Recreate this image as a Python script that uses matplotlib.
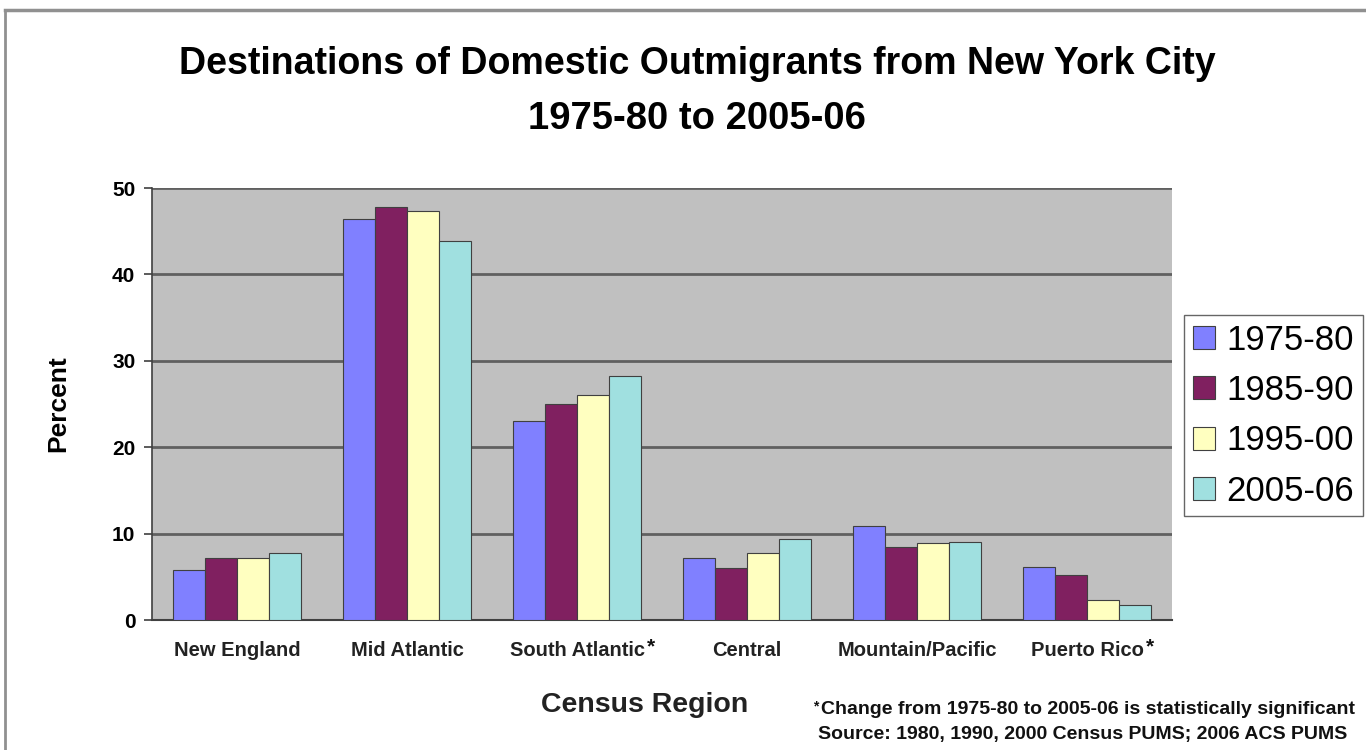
import matplotlib
matplotlib.use("Agg")
import matplotlib.pyplot as plt
import numpy as np
from matplotlib.lines import Line2D

plt.rcParams['font.family'] = ['Liberation Sans', 'DejaVu Sans']

regions = ["New England", "Mid Atlantic", "South Atlantic", "Central",
           "Mountain/Pacific", "Puerto Rico"]
significant = [False, False, True, False, False, True]
periods = ["1975-80", "1985-90", "1995-00", "2005-06"]
pct_1975 = [5.8, 46.4, 23.0, 7.2, 10.9, 6.1]
pct_1985 = [7.2, 47.8, 25.0, 6.0, 8.4, 5.2]
pct_1995 = [7.2, 47.3, 26.0, 7.8, 8.9, 2.3]
pct_2005 = [7.7, 43.9, 28.2, 9.4, 9.0, 1.7]
series = [pct_1975, pct_1985, pct_1995, pct_2005]
colors = ["#8080FF", "#802060", "#FFFFC0", "#A0E0E0"]

W, H = 1366, 750
fig = plt.figure(figsize=(W / 100, H / 100), dpi=100)
ax = fig.add_axes([152 / W, 1 - 620 / H, (1172 - 152) / W, (620 - 188) / H])
ax.set_facecolor("#C0C0C0")

x = np.arange(len(regions))
bw = 0.188
for i, (vals, c, lab) in enumerate(zip(series, colors, periods)):
    ax.bar(x + (i - 1.5) * bw, vals, width=bw, color=c, edgecolor="#404040",
           linewidth=0.8, label=lab, zorder=3)

ax.set_xlim(-0.5, len(regions) - 0.5)
ax.set_ylim(0, 50)
ax.set_yticks(range(0, 51, 10))
ax.yaxis.grid(True, color="#606060", linewidth=2, zorder=1)
ax.set_axisbelow(True)
for s in ["top", "right"]:
    ax.spines[s].set_visible(False)
ax.spines["left"].set_color("#404040")
ax.spines["left"].set_linewidth(1.2)
ax.spines["bottom"].set_color("#404040")
ax.spines["bottom"].set_linewidth(1.5)
ax.tick_params(axis="y", direction="out", length=6, width=1.2, color="#404040",
               labelsize=15, pad=6)
ax.tick_params(axis="x", length=0, labelsize=14.5, pad=15)
ax.set_xticks(x)
ax.set_xticklabels(regions, fontweight="bold", color="#222222")
for t in ax.get_yticklabels():
    t.set_fontweight("bold")

ax.set_ylabel("Percent", fontsize=19, fontweight="bold")
ax.yaxis.set_label_coords((70 - 152) / (1172 - 152), 0.5)

fig.text(697 / W, 1 - 64 / H, "Destinations of Domestic Outmigrants from New York City",
         ha="center", va="center", fontsize=27, fontweight="bold")
fig.text(697 / W, 1 - 119 / H, "1975-80 to 2005-06",
         ha="center", va="center", fontsize=27.5, fontweight="bold")
fig.text(645 / W, 1 - 705 / H, "Census Region", ha="center", va="center",
         fontsize=20.5, fontweight="bold", color="#222222")

fig.text(1088 / W, 1 - 709 / H, "Change from 1975-80 to 2005-06 is statistically significant",
         ha="center", va="center", fontsize=14, fontweight="bold", color="#111111")
fig.text(1083 / W, 1 - 735 / H, "Source: 1980, 1990, 2000 Census PUMS; 2006 ACS PUMS",
         ha="center", va="center", fontsize=14, fontweight="bold", color="#111111")

leg = fig.legend(loc="upper left", bbox_to_anchor=(1184 / W, 1 - 315 / H),
                 fontsize=25, frameon=True, fancybox=False, edgecolor="#404040",
                 handlelength=0.63, handleheight=0.63, handletextpad=0.35,
                 labelspacing=0.5, borderpad=0.25, borderaxespad=0)
leg.get_frame().set_linewidth(1.0)

# outer chart frame
fig.add_artist(Line2D([5 / W, 1], [1 - 10 / H, 1 - 10 / H], color="#909090",
                      linewidth=2.5, transform=fig.transFigure))
fig.add_artist(Line2D([5 / W, 5 / W], [1 - 10 / H, 0], color="#909090",
                      linewidth=2, transform=fig.transFigure))

# raised asterisks after significant regions and before the footnote
fig.canvas.draw()
renderer = fig.canvas.get_renderer()
for lbl, sig in zip(ax.get_xticklabels(), significant):
    if sig:
        bb = lbl.get_window_extent(renderer)
        fig.text((bb.x1 + 2) / W, (bb.y1 + 3) / H, "*", ha="left", va="top",
                 fontsize=15, fontweight="bold", color="#111111")
for t in fig.texts:
    if t.get_text().startswith("Change from"):
        bb = t.get_window_extent(renderer)
        fig.text((bb.x0 - 3) / W, (bb.y1 + 1) / H, "*", ha="right", va="top",
                 fontsize=10, fontweight="bold", color="#111111")
        break

fig.savefig("out.png", dpi=100)
